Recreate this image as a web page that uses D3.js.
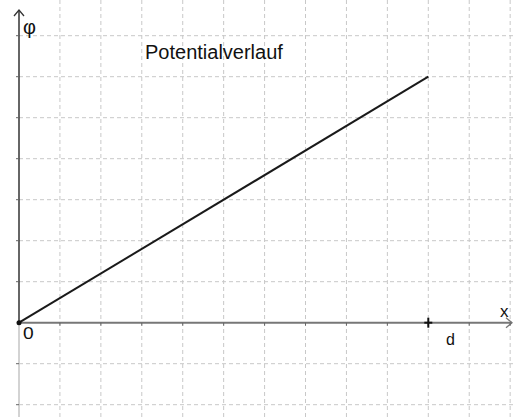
<!DOCTYPE html>
<html><head><meta charset="utf-8">
<script src="https://cdn.jsdelivr.net/npm/d3@7"></script>
<style>html,body{margin:0;padding:0;background:#fff;}svg{display:block;}</style>
</head><body>
<script>
// Data
const xValues = [0, 10];          // x positions (0 and d)
const phiValues = [0, 6];         // potential φ
const gridX = [1,2,3,4,5,6,7,8,9,10,11,12];
const gridY = [-2,-1,1,2,3,4,5,6,7];
const titleText = "Potentialverlauf";
const xAxisLabel = "x";
const yAxisLabel = "φ";
const originLabel = "0";
const dLabel = "d";
const dValue = 10;

const W = 514, H = 417;
const svg = d3.select("body").append("svg").attr("width", W).attr("height", H);
const x = d3.scaleLinear().domain([0, 10]).range([19, 428.3]);
const y = d3.scaleLinear().domain([0, 6]).range([322.7, 76.7]);
const font = "Liberation Sans, Arial, sans-serif";

// grid
svg.append("g").selectAll("line").data(gridX).join("line")
  .attr("x1", d => x(d)).attr("x2", d => x(d)).attr("y1", 0).attr("y2", H)
  .attr("stroke", "#c8c8c8").attr("stroke-width", 1).attr("stroke-dasharray", "4,3");
svg.append("g").selectAll("line").data(gridY).join("line")
  .attr("x1", x(0)).attr("x2", W).attr("y1", d => y(d)).attr("y2", d => y(d))
  .attr("stroke", "#c8c8c8").attr("stroke-width", 1).attr("stroke-dasharray", "4,3");

// y axis below origin (light)
svg.append("line").attr("x1", x(0)).attr("x2", x(0)).attr("y1", y(0)).attr("y2", H)
  .attr("stroke", "#c4c4c4").attr("stroke-width", 1.5);
// y axis above origin
svg.append("line").attr("x1", x(0)).attr("x2", x(0)).attr("y1", y(0)).attr("y2", 10)
  .attr("stroke", "#333").attr("stroke-width", 1.5);
svg.append("path").attr("d", `M${x(0)-5},${16} L${x(0)},${10} L${x(0)+5},${16}`)
  .attr("fill", "none").attr("stroke", "#333").attr("stroke-width", 1.3);
// y ticks
svg.append("g").selectAll("line").data(gridY).join("line")
  .attr("x1", x(0) - 3).attr("x2", x(0)).attr("y1", d => y(d)).attr("y2", d => y(d))
  .attr("stroke", "#666").attr("stroke-width", 1);

// x axis
svg.append("line").attr("x1", x(0)).attr("x2", 512).attr("y1", y(0)).attr("y2", y(0))
  .attr("stroke", "#777").attr("stroke-width", 2);
svg.append("path").attr("d", `M${506},${y(0)-5} L${512},${y(0)} L${506},${y(0)+5}`)
  .attr("fill", "none").attr("stroke", "#777").attr("stroke-width", 1.3);
svg.append("g").selectAll("line").data(gridX).join("line")
  .attr("x1", d => x(d)).attr("x2", d => x(d)).attr("y1", y(0)).attr("y2", y(0) + 3)
  .attr("stroke", "#666").attr("stroke-width", 1);

// d marker
svg.append("line").attr("x1", x(dValue)).attr("x2", x(dValue)).attr("y1", y(0) - 5).attr("y2", y(0) + 5)
  .attr("stroke", "#111").attr("stroke-width", 2);
svg.append("line").attr("x1", x(dValue) - 4).attr("x2", x(dValue) + 4).attr("y1", y(0)).attr("y2", y(0))
  .attr("stroke", "#111").attr("stroke-width", 2);

// potential line
const pts = xValues.map((v, i) => [v, phiValues[i]]);
svg.append("path").datum(pts)
  .attr("d", d3.line().x(d => x(d[0])).y(d => y(d[1])))
  .attr("fill", "none").attr("stroke", "#1a1a1a").attr("stroke-width", 2);
svg.append("circle").attr("cx", x(0)).attr("cy", y(0)).attr("r", 2.5).attr("fill", "#111");

// labels
svg.append("text").attr("x", 145).attr("y", 59).text(titleText)
  .attr("font-family", font).attr("font-size", 20).attr("fill", "#111");
svg.append("text").attr("x", 23).attr("y", 34).text(yAxisLabel)
  .attr("font-family", font).attr("font-size", 20).attr("fill", "#111");
svg.append("text").attr("x", 23).attr("y", 339.5).text(originLabel)
  .attr("font-family", font).attr("font-size", 16).attr("transform", "translate(23,0) scale(1.2,1) translate(-23,0)")
  .attr("fill", "#111");
svg.append("text").attr("x", 446).attr("y", 345).text(dLabel)
  .attr("font-family", font).attr("font-size", 16).attr("fill", "#111");
svg.append("text").attr("x", 500).attr("y", 316.5).text(xAxisLabel)
  .attr("font-family", font).attr("font-size", 17).attr("fill", "#111");
</script>
</body></html>
